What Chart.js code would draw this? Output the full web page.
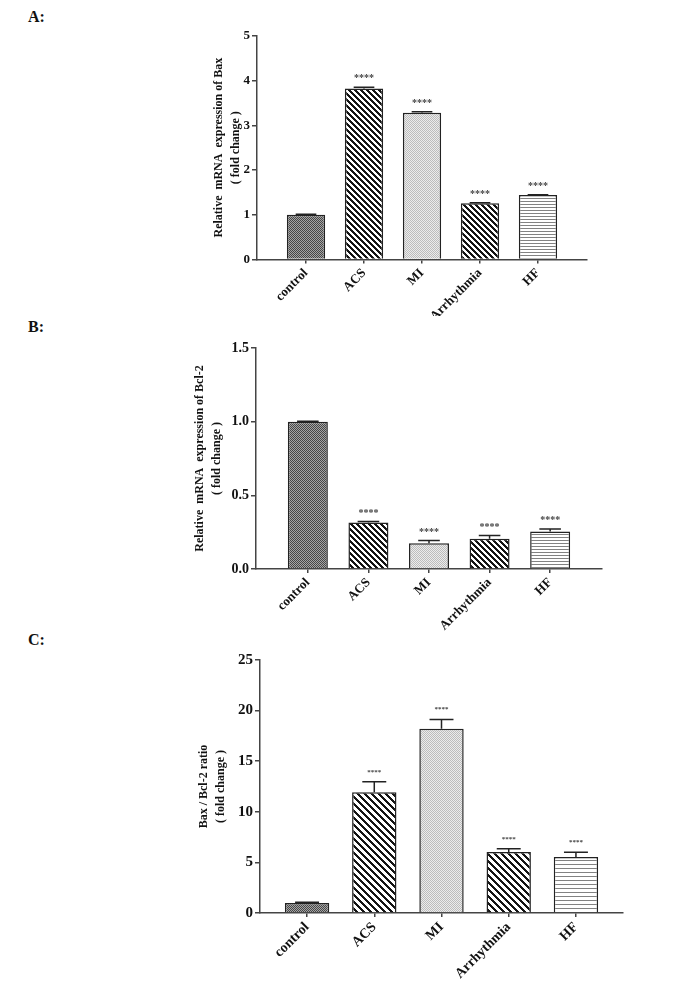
<!DOCTYPE html>
<html>
<head>
<meta charset="utf-8">
<script src="https://cdn.jsdelivr.net/npm/chart.js@4/dist/chart.umd.min.js"></script>
<style>
  body { margin: 0; background: #fff; }
  #page { position: relative; width: 678px; height: 981px; }
  canvas { position: absolute; left: 0; }
  .tag { position: absolute; left: 28px; font: bold 16px "Liberation Serif", serif; line-height: 16px; color: #111; }
</style>
</head>
<body>
<div id="page">
  <div class="tag" style="top:9px">A:</div>
  <div class="tag" style="top:319px">B:</div>
  <div class="tag" style="top:632px">C:</div>
  <canvas id="chartA" width="678" height="316" style="top:0px"></canvas>
  <canvas id="chartB" width="678" height="306" style="top:330px"></canvas>
  <canvas id="chartC" width="678" height="341" style="top:640px"></canvas>
</div>
<script>
const categories = ["control", "ACS", "MI", "Arrhythmia", "HF"];
const stars = ["", "****", "****", "****", "****"];

const baxValues = [1.0, 3.82, 3.28, 1.26, 1.44];
const baxErrors = [0.015, 0.03, 0.02, 0.01, 0.01];
const baxTicks = [0, 1, 2, 3, 4, 5];

const bclValues = [1.0, 0.315, 0.175, 0.205, 0.255];
const bclErrors = [0.003, 0.007, 0.018, 0.022, 0.017];
const bclTicks = [0, 0.5, 1.0, 1.5];

const ratioValues = [1.0, 11.93, 18.2, 6.03, 5.53];
const ratioErrors = [0.05, 1.05, 0.93, 0.33, 0.47];
const ratioTicks = [0, 5, 10, 15, 20, 25];

const FONT = "'Liberation Serif', 'Times New Roman', serif";

// small bitmap fills, like the hatches in the original figure
function makePattern(kind, n) {
  const c = document.createElement("canvas");
  c.width = c.height = n;
  const g = c.getContext("2d");
  const img = g.createImageData(n, n);
  for (let y = 0; y < n; y++) {
    for (let x = 0; x < n; x++) {
      let v = 255;
      if (kind === "checker") v = (x + y) % 2 ? 165 : 70;
      if (kind === "stripe") v = ((x - y + n * 10) % n) < 3 ? 20 : 255;
      if (kind === "dots") v = (x + y) % 2 ? 236 : 188;
      if (kind === "lines") v = y % n === 0 ? 130 : 255;
      const k = (y * n + x) * 4;
      img.data[k] = img.data[k + 1] = img.data[k + 2] = v;
      img.data[k + 3] = 255;
    }
  }
  g.putImageData(img, 0, 0);
  return g.createPattern(c, "repeat");
}

const errorBars = {
  id: "errorBars",
  afterDatasetsDraw(chart, args, opts) {
    const ctx = chart.ctx;
    const y = chart.scales.y;
    const meta = chart.getDatasetMeta(0);
    ctx.save();
    meta.data.forEach((bar, i) => {
      const top = y.getPixelForValue(opts.values[i] + opts.errors[i]);
      const base = y.getPixelForValue(opts.values[i]);
      const half = bar.width * 0.27;
      ctx.strokeStyle = "#222";
      ctx.lineWidth = 1.5;
      ctx.beginPath();
      ctx.moveTo(bar.x, base);
      ctx.lineTo(bar.x, top);
      ctx.moveTo(bar.x - half, top);
      ctx.lineTo(bar.x + half, top);
      ctx.stroke();
      ctx.fillStyle = "#444";
      ctx.font = "bold " + opts.starSize + "px " + FONT;
      ctx.textAlign = "center";
      ctx.textBaseline = "alphabetic";
      ctx.fillText(stars[i], bar.x, top - opts.starGap);
    });
    ctx.restore();
  }
};

function makePanel(id, o) {
  const fills = [
    makePattern("checker", 2),
    makePattern("stripe", o.stripe),
    makePattern("dots", 2),
    makePattern("stripe", o.stripe),
    makePattern("lines", o.lines)
  ];
  const canvas = document.getElementById(id);
  return new Chart(canvas, {
    type: "bar",
    data: {
      datasets: [{
        data: o.values.map((v, i) => ({ x: i, y: v })),
        backgroundColor: fills,
        borderColor: "#222",
        borderWidth: 1.5,
        barPercentage: 0.66,
        categoryPercentage: 1.0
      }]
    },
    options: {
      responsive: false,
      animation: false,
      events: [],
      layout: { padding: { left: o.padLeft, right: 678 - o.right, top: o.top, bottom: 0 } },
      plugins: {
        legend: { display: false },
        tooltip: { enabled: false },
        errorBars: { values: o.values, errors: o.errors, starSize: o.starSize, starGap: o.starGap }
      },
      scales: {
        x: {
          type: "linear",
          offset: false,
          min: -o.pad,
          max: categories.length - 1 + o.pad,
          afterBuildTicks: s => { s.ticks = categories.map((c, i) => ({ value: i })); },
          afterFit: s => { s.height = canvas.height - o.bottom; },
          ticks: {
            autoSkip: false,
            maxRotation: 45,
            minRotation: 45,
            padding: 2,
            color: "#111",
            font: { family: FONT, weight: "bold", size: o.xFont },
            callback: v => categories[v]
          },
          grid: { offset: false, drawOnChartArea: false, tickLength: 4, color: "#444", lineWidth: 1.5 },
          border: { color: "#444", width: 1.5 }
        },
        y: {
          min: o.ticks[0],
          max: o.ticks[o.ticks.length - 1],
          afterBuildTicks: s => { s.ticks = o.ticks.map(v => ({ value: v })); },
          afterFit: s => { s.width = o.left - o.padLeft; },
          ticks: {
            padding: 2,
            color: "#111",
            font: { family: FONT, weight: "bold", size: o.yFont },
            callback: v => v.toFixed(o.decimals)
          },
          grid: { drawOnChartArea: false, tickLength: 5, color: "#444", lineWidth: 1.5 },
          border: { color: "#444", width: 1.5 },
          title: {
            display: true,
            text: o.title,
            color: "#111",
            padding: { top: 4, bottom: 4 },
            font: { family: FONT, weight: "bold", size: 12, lineHeight: 1.4 }
          }
        }
      }
    },
    plugins: [errorBars]
  });
}

makePanel("chartA", {
  values: baxValues, errors: baxErrors, ticks: baxTicks, decimals: 0,
  title: ["Relative  mRNA  expression of Bax", "( fold change )"],
  padLeft: 206.6, left: 257, right: 587, top: 35.7, bottom: 259.6,
  pad: 0.845, xFont: 13, yFont: 13, stripe: 6, lines: 3, starSize: 10, starGap: 6
});

makePanel("chartB", {
  values: bclValues, errors: bclErrors, ticks: bclTicks, decimals: 1,
  title: ["Relative  mRNA  expression of Bcl-2", "( fold change )"],
  padLeft: 187.6, left: 256, right: 602, top: 18, bottom: 239,
  pad: 0.856, xFont: 13, yFont: 14, stripe: 6, lines: 3, starSize: 10, starGap: 6
});

makePanel("chartC", {
  values: ratioValues, errors: ratioErrors, ticks: ratioTicks, decimals: 0,
  title: ["Bax / Bcl-2 ratio", "( fold change )"],
  padLeft: 191.6, left: 260, right: 623, top: 20, bottom: 273,
  pad: 0.7, xFont: 14, yFont: 15, stripe: 7, lines: 4, starSize: 7, starGap: 8
});
</script>
</body>
</html>
